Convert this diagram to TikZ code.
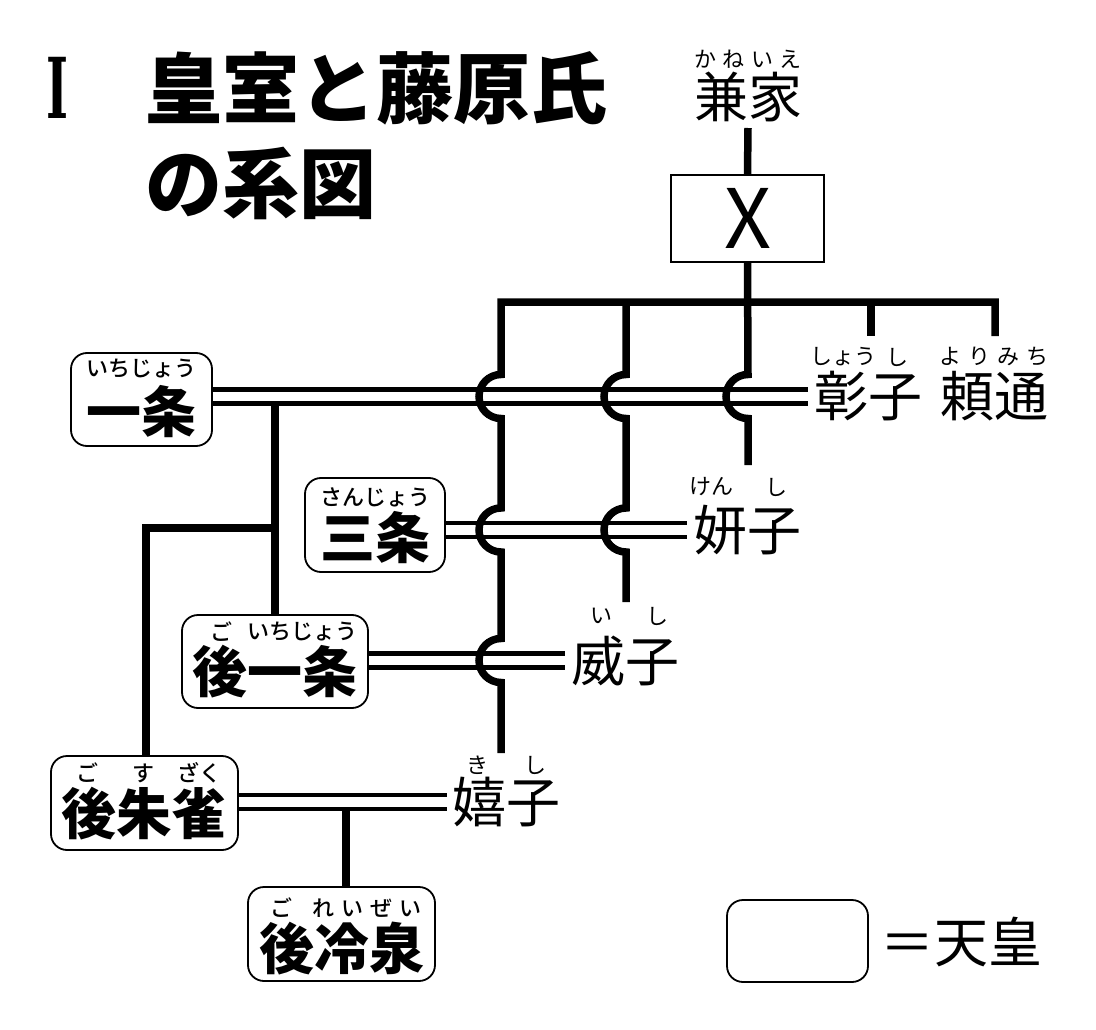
\documentclass[tikz,border=0pt]{standalone}
\usepackage{fontspec}
\newfontfamily\jp{Noto Sans CJK JP}
\newfontfamily\jpm{Noto Sans CJK JP Medium}
\newfontfamily\serifb{DejaVu Serif}
\newcommand{\spr}[2]{\makebox[#1][s]{#2}}
\tikzset{
  kin/.style={line width=7.5pt},
  marriage/.style={double, line width=4.6pt, double distance=9.6pt},
  tenno/.style={draw, line width=1.8pt, rounded corners=16pt, inner sep=0pt},
  pname/.style={font=\jp\fontsize{54}{54}\selectfont, inner sep=0pt, outer sep=6pt},
  bname/.style={font=\jp\bfseries\fontsize{55}{55}\selectfont, inner sep=0pt},
  kana/.style={font=\jp\fontsize{22}{22}\selectfont, inner sep=0pt},
  bkana/.style={font=\jpm\fontsize{22}{22}\selectfont, inner sep=0pt},
  ttl/.style={font=\jp\bfseries\fontsize{77}{77}\selectfont, inner sep=0pt},
}
\begin{document}
\begin{tikzpicture}[x=1pt,y=-1pt]
\useasboundingbox (0,0) rectangle (1096,1030);

% title
\node[inner sep=0pt, font=\serifb\bfseries\fontsize{84}{84}\selectfont] (num) at (57.5,88) {\scalebox{0.56}[1]{I}};
\node[ttl, anchor=west] (title1) at (145,88) {皇室と藤原氏};
\node[ttl, anchor=west] (title2) at (145,183) {の系図};

% Kaneie and X
\node[pname] (kaneie) at (748,97) {兼家};
\node[kana] (kaneieK) at (748,59) {\spr{107pt}{か\hfil ね\hfil い\hfil え}};
\node[draw, line width=1.6pt, minimum width=153pt, minimum height=87pt, inner sep=0pt,
      font=\jp\fontsize{82}{82}\selectfont] (X) at (747.5,218.5) {X};

% non-emperor names
\node[pname] (shoshi) at (868,396.5) {彰子};
\node[kana] (shoshiK1) at (843,357) {しょう};
\node[kana] (shoshiK2) at (897,357) {し};
\node[pname] (yorimichi) at (994,396.5) {頼通};
\node[kana] (yorimichiK) at (994,357) {\spr{109pt}{よ\hfil り\hfil み\hfil ち}};
\node[pname] (kenshi) at (747,530) {妍子};
\node[kana] (kenshiK1) at (711,487) {けん};
\node[kana] (kenshiK2) at (776,487) {し};
\node[pname] (ishi) at (625,660.5) {威子};
\node[kana] (ishiK1) at (601,616) {い};
\node[kana] (ishiK2) at (657,616) {し};
\node[pname] (kishi) at (506.5,802) {嬉子};
\node[kana] (kishiK1) at (477,765) {き};
\node[kana] (kishiK2) at (535,765) {し};

% emperors
\node[tenno, minimum width=141pt, minimum height=93pt] (ichijo) at (141.5,399.5) {};
\node[bkana] (ichijoK) at (141.5,369) {いちじょう};
\node[bname] (ichijoN) at (141.5,412) {一条};

\node[tenno, minimum width=140pt, minimum height=94pt] (sanjo) at (375,525) {};
\node[bkana] (sanjoK) at (375,497) {さんじょう};
\node[bname] (sanjoN) at (375,538) {三条};

\node[tenno, minimum width=186pt, minimum height=93pt] (goichijo) at (275,661.5) {};
\node[bkana] (goichijoK1) at (221,632) {ご};
\node[bkana] (goichijoK2) at (302.5,632) {いちじょう};
\node[bname] (goichijoN) at (275,672) {後一条};

\node[tenno, minimum width=187pt, minimum height=94pt] (gosuzaku) at (144.5,803) {};
\node[bkana] (gosuzakuK1) at (87,773) {ご};
\node[bkana] (gosuzakuK2) at (143,773) {す};
\node[bkana] (gosuzakuK3) at (199,773) {ざく};
\node[bname] (gosuzakuN) at (144,814) {後朱雀};

\node[tenno, minimum width=187pt, minimum height=94pt] (goreizei) at (341.5,934) {};
\node[bkana] (goreizeiK1) at (281,908) {ご};
\node[bkana] (goreizeiK2) at (367,908) {\spr{109pt}{れ\hfil い\hfil ぜ\hfil い}};
\node[bname] (goreizeiN) at (341.5,949) {後冷泉};

% legend
\node[tenno, minimum width=141pt, minimum height=82pt] (legend) at (797.5,941) {};
\node[pname, outer sep=0pt] (legendT) at (961.5,942) {＝天皇};

% marriages
\draw[marriage] (ichijo.east |- shoshi) -- (shoshi.west);
\draw[marriage] (sanjo.east |- kenshi) -- (kenshi.west);
\draw[marriage] (goichijo.east |- ishi) -- (ishi.west);
\draw[marriage] (gosuzaku.east |- kishi) -- (kishi.west);

% coordinates
\coordinate (barL) at (501,302);
\coordinate (barR) at (995,302);
\coordinate (barS) at (871,302);
\coordinate (barM) at (626,302);
\coordinate (kishiEnd) at (501,753);
\coordinate (ishiEnd) at (626,602);
\coordinate (kenshiEnd) at (748,465);
\coordinate (ichiDown) at (275,404);
\coordinate (ichiBranch) at (275,528);
\coordinate (gsDown) at (346,808);

% Kaneie line
\draw[kin] (kaneie.south) -- (X.north);
% X children
\draw[kin] (X.south) -- (748,374.5) arc[start angle=90, end angle=270, radius=22pt] -- (kenshiEnd);
\draw[kin] ([yshift=-34pt]barR) -- (barR) -- (barL)
  -- (501,374.5) arc[start angle=90, end angle=270, radius=22pt]
  -- (501,508) arc[start angle=90, end angle=270, radius=22pt]
  -- (501,638.5) arc[start angle=90, end angle=270, radius=22pt]
  -- (kishiEnd);
\draw[kin] (barM) -- (626,374.5) arc[start angle=90, end angle=270, radius=22pt]
  -- (626,508) arc[start angle=90, end angle=270, radius=22pt]
  -- (ishiEnd);
\draw[kin] (barS) -- ([yshift=-34pt]barS);

% Ichijo children
\draw[kin] (ichiDown) -- (goichijo.north);
\draw[kin] (ichiBranch) -- (146,528) -- (146,756.5);
% Gosuzaku child
\draw[kin] (gsDown) -- (gsDown |- goreizei.north);
\end{tikzpicture}
\end{document}
